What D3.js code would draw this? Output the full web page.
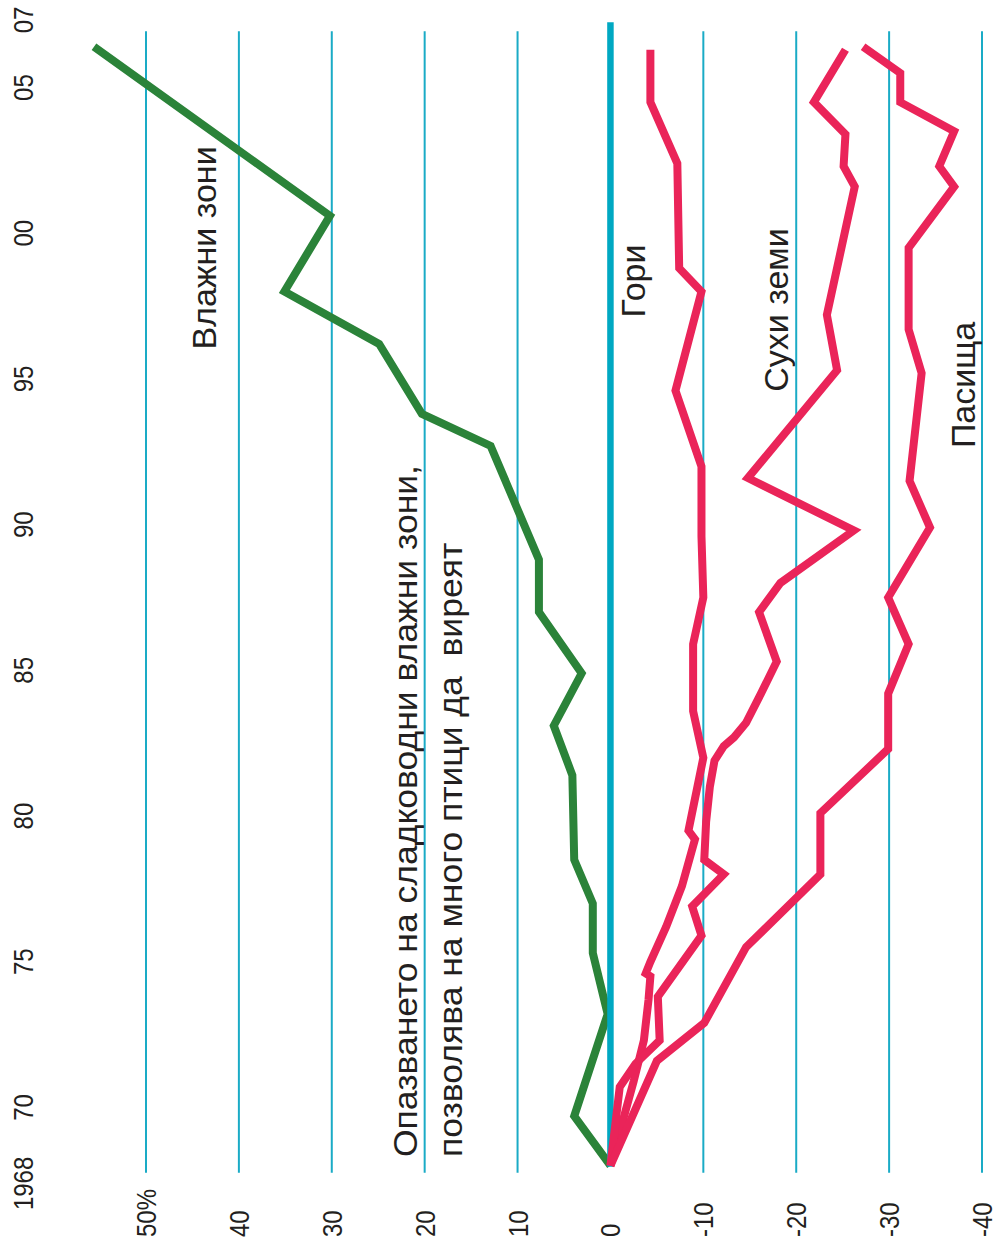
<!DOCTYPE html>
<html><head><meta charset="utf-8">
<script src="https://cdn.jsdelivr.net/npm/d3@7"></script>
<style>body{margin:0;background:#fff} svg{display:block}</style>
</head><body>
<script>
// ---- data ----
const yearTicks = [1968,1970,1975,1980,1985,1990,1995,2000,2005,2007];
const yearTickLabels = ["1968","70","75","80","85","90","95","00","05","07"];
const valueTicks = [50,40,30,20,10,0,-10,-20,-30,-40];
const valueTickLabels = ["50%","40","30","20","10","0","-10","-20","-30","-40"];

const wetlandYears  = [1968,1969.7,1973.2,1975.3,1977.0,1978.5,1981.4,1983.1,1984.9,1987.0,1988.8,1992.7,1993.8,1996.2,1998.0,2000.6,2006.4];
const wetlandValues = [0,3.9,0.3,1.9,1.9,3.9,4.1,6.1,3.1,7.7,7.7,12.9,20.3,24.9,35.1,30.2,55.6];

const forestYears  = [1968,1970.9,1972.3,1973.7,1974.5,1974.6,1975.0,1976.2,1977.6,1979.2,1979.5,1982.0,1983.6,1985.9,1987.5,1989.6,1992.0,1994.6,1998.0,1998.8,2002.4,2004.5,2006.3];
const forestValues = [0,-2.5,-3.6,-4.1,-4.3,-3.8,-4.3,-6.0,-7.7,-9.1,-8.4,-10.0,-8.9,-8.9,-10.0,-9.8,-9.8,-7.0,-9.8,-7.4,-7.2,-4.3,-4.3];

const drylandYears  = [1968,1970.7,1971.5,1972.3,1973.8,1975.9,1976.9,1978.0,1978.5,1979.8,1981.0,1981.9,1982.4,1982.7,1983.2,1984.2,1985.3,1987.0,1988.0,1989.8,1991.6,1995.3,1997.2,2001.6,2002.3,2003.4,2004.5,2006.3];
const drylandValues = [0,-1.0,-2.7,-5.3,-5.1,-9.8,-8.8,-12.2,-10.1,-10.3,-10.7,-11.2,-12.2,-13.3,-14.6,-16.2,-17.9,-16.0,-18.3,-26.2,-14.8,-24.4,-23.3,-26.3,-25.1,-25.3,-21.9,-25.3];

const pastureYears  = [1968,1971.6,1972.9,1975.5,1978.0,1980.1,1982.3,1984.2,1985.9,1987.5,1989.9,1991.5,1995.2,1996.7,1999.5,2001.6,2002.3,2003.5,2004.5,2005.5,2006.4];
const pastureValues = [0,-5.0,-10.1,-14.6,-22.6,-22.6,-29.9,-29.9,-32.1,-29.9,-34.4,-32.2,-33.5,-32.1,-32.1,-37.0,-35.4,-37.0,-31.2,-31.2,-27.2];

const seriesNames = ["Влажни зони","Гори","Сухи земи","Пасища"];
const noteLines = ["Опазването на сладководни влажни зони,","позволява на много птици да  виреят"];

// ---- drawing ----
const W = 997, H = 1248;
const svg = d3.select("body").append("svg").attr("width", W).attr("height", H);

const x = d3.scaleLinear().domain([50,-40]).range([146,982]);
const y = d3.scaleLinear().domain([1968,2007]).range([1165.7,29.3]);

const gridColor = "#1aabc6";
const zeroColor = "#00a8c2";
const green = "#2b8339";
const red = "#ea2459";
const textColor = "#231f20";
const font = "'Liberation Sans', Arial, Helvetica, sans-serif";

// gridlines
svg.append("g").selectAll("line").data(valueTicks.filter(v => v !== 0)).join("line")
  .attr("x1", d => x(d)).attr("x2", d => x(d))
  .attr("y1", y(2007) + 2).attr("y2", y(1968) + 7)
  .attr("stroke", gridColor).attr("stroke-width", 2);

const line = d3.line().x(d => x(d[1])).y(d => y(d[0])).curve(d3.curveLinear);
const zip = (a, b) => a.map((v, i) => [v, b[i]]);

// green series (under zero line)
svg.append("path").datum(zip(wetlandYears, wetlandValues))
  .attr("d", line).attr("fill", "none").attr("stroke", green)
  .attr("stroke-width", 8).attr("stroke-linejoin", "miter").attr("stroke-miterlimit", 6);

// zero line
svg.append("line")
  .attr("x1", x(0)).attr("x2", x(0))
  .attr("y1", y(2007) - 7).attr("y2", y(1968) + 1)
  .attr("stroke", zeroColor).attr("stroke-width", 6.5);

// red series
[[forestYears, forestValues],[drylandYears, drylandValues],[pastureYears, pastureValues]].forEach(([ys, vs]) => {
  svg.append("path").datum(zip(ys, vs))
    .attr("d", line).attr("fill", "none").attr("stroke", red)
    .attr("stroke-width", 8).attr("stroke-linejoin", "miter").attr("stroke-miterlimit", 6);
});

// rotated text helper
function rtext(bx, cy, txt, size, anchor, k) {
  return svg.append("text")
    .attr("transform", `translate(${bx},${cy}) rotate(-90) scale(1,${k})`)
    .attr("text-anchor", anchor)
    .attr("font-family", font).attr("font-size", size)
    .attr("fill", textColor)
    .style("white-space", "pre")
    .text(txt);
}

// year tick labels
yearTicks.forEach((yr, i) => {
  let anchor = "middle", pos = y(yr);
  if (i === 0) { anchor = "end"; pos = y(yr) - 9; }
  if (i === yearTicks.length - 1) { anchor = "start"; pos = y(yr) + 4; }
  rtext(33, pos, yearTickLabels[i], 24, anchor, 1.15);
});

// value tick labels
valueTicks.forEach((v, i) => {
  rtext(x(v) + 10, 1237, valueTickLabels[i], 24, "start", 1.15);
});

// series labels
const LS = 34, LK = 0.95;
rtext(216, 248, seriesNames[0], LS, "middle", LK);
rtext(645, 281, seriesNames[1], LS, "middle", LK);
rtext(788, 310, seriesNames[2], LS, "middle", LK);
rtext(975, 385, seriesNames[3], LS, "middle", LK);

// note
rtext(417, 1157, noteLines[0], 35.5, "start", 0.91);
rtext(462, 1157, noteLines[1], 35.5, "start", 0.91);
</script>
</body></html>
